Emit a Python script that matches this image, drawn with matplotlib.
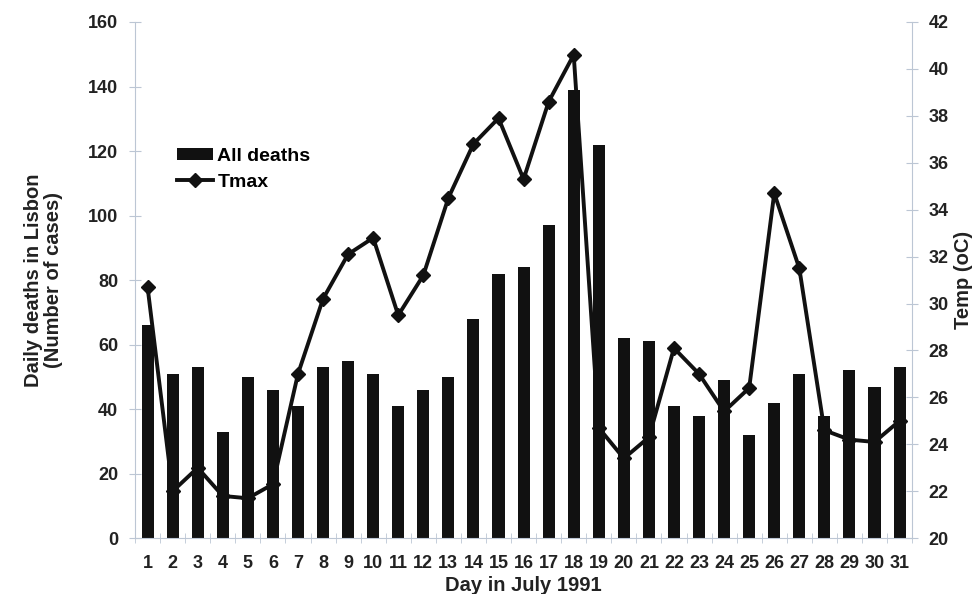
import matplotlib.pyplot as plt
from matplotlib.ticker import MultipleLocator
import numpy as np

plt.rcParams['font.family'] = ['Liberation Sans', 'DejaVu Sans']

days = list(range(1, 32))
deaths = [66, 51, 53, 33, 50, 46, 41, 53, 55, 51, 41, 46, 50, 68, 82, 84,
          97, 139, 122, 62, 61, 41, 38, 49, 32, 42, 51, 38, 52, 47, 53]
tmax = [30.7, 22.0, 23.0, 21.8, 21.7, 22.3, 27.0, 30.2, 32.1, 32.8, 29.5,
        31.2, 34.5, 36.8, 37.9, 35.3, 38.6, 40.6, 24.7, 23.4, 24.3, 28.1,
        27.0, 25.4, 26.4, 34.7, 31.5, 24.6, 24.2, 24.1, 25.0]

spine_col = '#bcc6d4'
txt_col = '#222222'
tick_fs = 13
lab_fs = 14.5

fig = plt.figure(figsize=(9.75, 5.94), dpi=100)
ax = fig.add_axes([0.1385, 0.094, 0.797, 0.869])
ax.bar(days, deaths, width=0.48, color='#111111', label='All deaths', zorder=2)
ax.set_xlim(0.5, 31.5)
ax.set_ylim(0, 160)
ax.yaxis.set_major_locator(MultipleLocator(20))
ax.set_xticks(days)
ax.set_xticks(np.arange(0.5, 32, 1), minor=True)
ax.tick_params(axis='x', which='major', length=0, pad=12)
ax.tick_params(axis='x', which='minor', length=7, direction='inout', color=spine_col)
ax.tick_params(axis='y', length=8, direction='inout', color=spine_col, pad=8)
for lab in ax.get_xticklabels() + ax.get_yticklabels():
    lab.set_fontweight('bold')
    lab.set_fontsize(tick_fs)
    lab.set_color(txt_col)
for s in ['top', 'right']:
    ax.spines[s].set_visible(False)
for s in ['left', 'bottom']:
    ax.spines[s].set_color(spine_col)
ax.set_ylabel('Daily deaths in Lisbon\n(Number of cases)', fontsize=lab_fs,
              fontweight='bold', color=txt_col, labelpad=18, linespacing=1.05)
ax.set_xlabel('Day in July 1991', fontsize=lab_fs, fontweight='bold',
              color=txt_col, labelpad=3)

ax2 = ax.twinx()
ax2.plot(days, tmax, color='#111111', lw=2.8, marker='D', markersize=7.5,
         label='Tmax', zorder=3)
ax2.set_ylim(20, 42)
ax2.yaxis.set_major_locator(MultipleLocator(2))
ax2.tick_params(axis='y', length=8, direction='inout', color=spine_col, pad=8)
for lab in ax2.get_yticklabels():
    lab.set_fontweight('bold')
    lab.set_fontsize(tick_fs)
    lab.set_color(txt_col)
for s in ['top', 'left', 'bottom']:
    ax2.spines[s].set_visible(False)
ax2.spines['right'].set_color(spine_col)
ax2.set_ylabel('Temp (oC)', fontsize=lab_fs, fontweight='bold', color=txt_col,
               labelpad=4)

h1, l1 = ax.get_legend_handles_labels()
h2, l2 = ax2.get_legend_handles_labels()
leg = ax2.legend(h1 + h2, l1 + l2, loc='upper left',
                 bbox_to_anchor=(0.032, 0.79), frameon=False,
                 handlelength=1.85, handleheight=0.6, handletextpad=0.2,
                 labelspacing=0.45, prop={'weight': 'bold', 'size': 14})

fig.savefig('out.png', dpi=100)
